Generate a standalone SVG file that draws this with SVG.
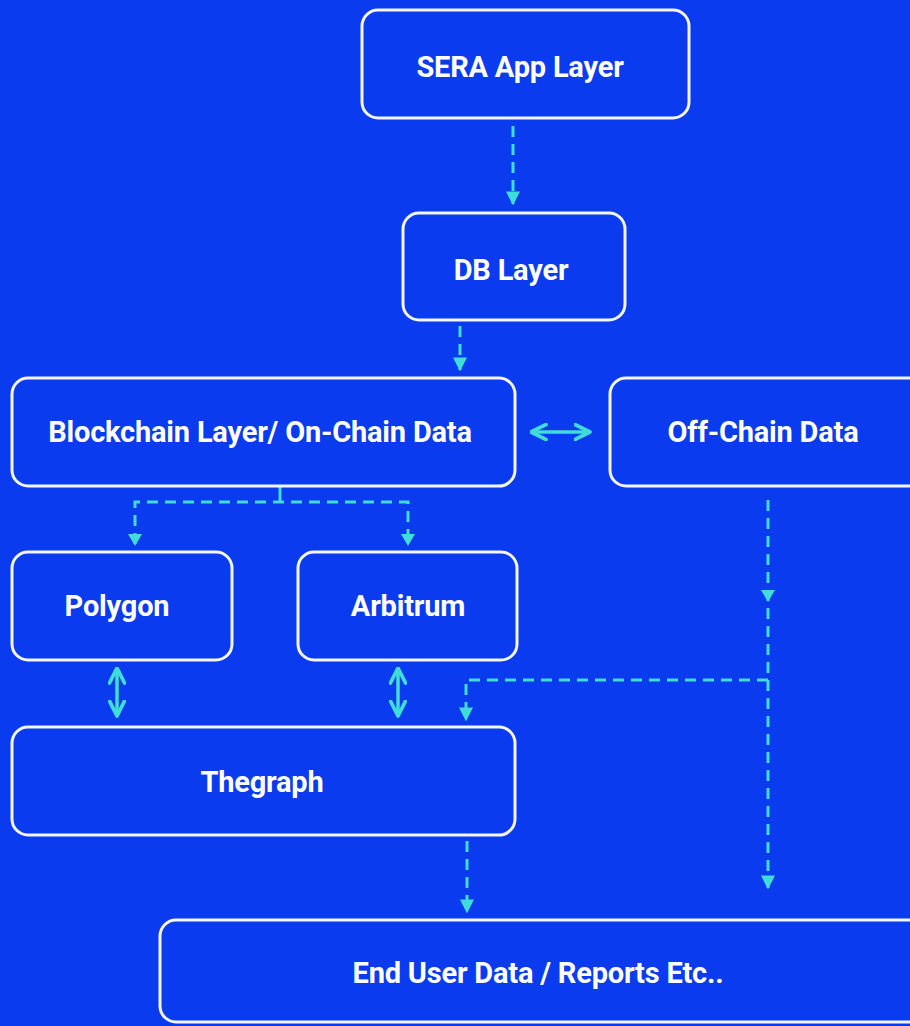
<svg xmlns="http://www.w3.org/2000/svg" width="910" height="1026" viewBox="0 0 910 1026">
<style>
.box{fill:#0a3bef;stroke:#f4f6ff;stroke-width:3}
.lbl{font-family:Roboto,"Liberation Sans",sans-serif;font-weight:700;font-size:29px;fill:#ffffff;text-anchor:middle;letter-spacing:-0.2px}
.dash{fill:none;stroke:#3fdcd8;stroke-width:3;stroke-dasharray:11 7}
.solid{fill:none;stroke:#3fdcd8;stroke-width:3.5}
</style>
<defs>
<marker id="tri" viewBox="0 0 10 10" refX="9" refY="5" markerWidth="14" markerHeight="14" markerUnits="userSpaceOnUse" orient="auto">
<path d="M0,0 L10,5 L0,10 Z" fill="#3fdcd8"/>
</marker>
<marker id="chev" viewBox="0 0 12 12" refX="11" refY="6" markerWidth="18" markerHeight="18" markerUnits="userSpaceOnUse" orient="auto-start-reverse">
<path d="M1,1 L11,6 L1,11" fill="none" stroke="#3fdcd8" stroke-width="2.5" stroke-linecap="round" stroke-linejoin="round"/>
</marker>
</defs>
<rect width="910" height="1026" fill="#0a3bef"/>
<g id="connectors">
<line class="dash" x1="513" y1="126" x2="513" y2="204" marker-end="url(#tri)"/>
<line class="dash" x1="460" y1="326" x2="460" y2="370" marker-end="url(#tri)"/>
<line class="solid" x1="531" y1="432" x2="590" y2="432" marker-start="url(#chev)" marker-end="url(#chev)"/>
<line x1="280" y1="487" x2="280" y2="502" stroke="#3fdcd8" stroke-width="3"/>
<path class="dash" d="M135,544 L135,502 L408,502 L408,544"/>
<path d="M128,534 L142,534 L135,546 Z" fill="#3fdcd8"/>
<path d="M401,534 L415,534 L408,546 Z" fill="#3fdcd8"/>
<line class="solid" x1="117" y1="668" x2="117" y2="716" marker-start="url(#chev)" marker-end="url(#chev)"/>
<line class="solid" x1="398" y1="668" x2="398" y2="716" marker-start="url(#chev)" marker-end="url(#chev)"/>
<line class="dash" x1="768" y1="500" x2="768" y2="888" marker-end="url(#tri)"/>
<path d="M761,590 L775,590 L768,602 Z" fill="#3fdcd8"/>
<path class="dash" d="M768,680 L466,680 L466,720" marker-end="url(#tri)"/>
<line class="dash" x1="467" y1="841" x2="467" y2="912" marker-end="url(#tri)"/>
</g>
<g id="sera"><rect class="box" x="362" y="10" width="327" height="108" rx="16"/><text class="lbl" x="520" y="77">SERA App Layer</text></g>
<g id="db"><rect class="box" x="403" y="213" width="222" height="107" rx="16"/><text class="lbl" x="511" y="280">DB Layer</text></g>
<g id="blockchain"><rect class="box" x="12" y="378" width="503" height="108" rx="16"/><text class="lbl" x="260" y="442">Blockchain Layer/ On-Chain Data</text></g>
<g id="offchain"><rect class="box" x="610" y="378" width="320" height="108" rx="16"/><text class="lbl" x="763" y="442">Off-Chain Data</text></g>
<g id="polygon"><rect class="box" x="12" y="552" width="220" height="108" rx="16"/><text class="lbl" x="117" y="616">Polygon</text></g>
<g id="arbitrum"><rect class="box" x="298" y="552" width="219" height="108" rx="16"/><text class="lbl" x="408" y="616">Arbitrum</text></g>
<g id="thegraph"><rect class="box" x="12" y="727" width="503" height="108" rx="16"/><text class="lbl" x="262" y="792">Thegraph</text></g>
<g id="enduser"><rect class="box" x="160" y="920" width="770" height="102" rx="16"/><text class="lbl" x="538" y="983">End User Data / Reports Etc..</text></g>
</svg>
